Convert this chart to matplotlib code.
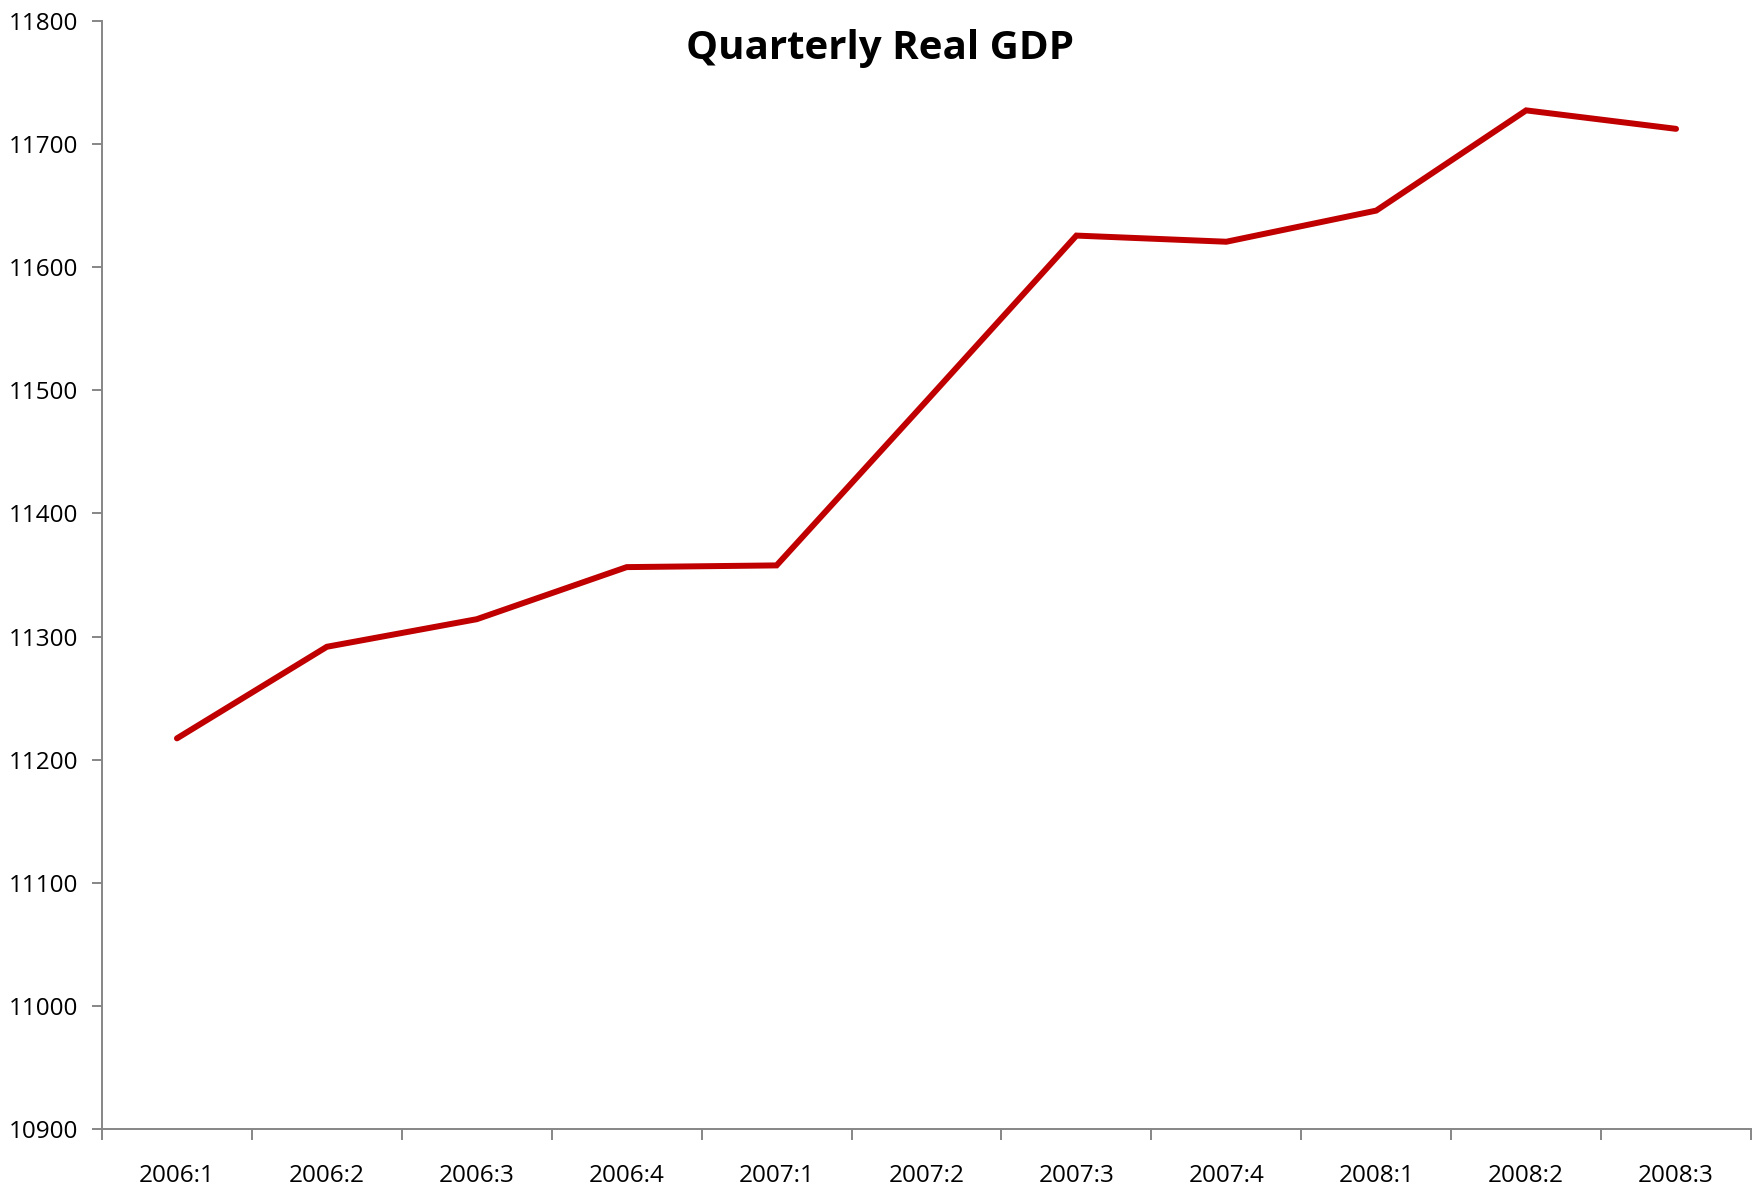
import matplotlib
matplotlib.use("Agg")
import matplotlib.pyplot as plt
import numpy as np

quarters = ["2006:1", "2006:2", "2006:3", "2006:4", "2007:1", "2007:2",
            "2007:3", "2007:4", "2008:1", "2008:2", "2008:3"]
gdp = [11217.3, 11291.7, 11314.1, 11356.4, 11357.8, 11491.4,
       11625.7, 11620.7, 11646.0, 11727.4, 11712.4]

plt.rcParams['font.family'] = ['Open Sans', 'DejaVu Sans']

fig = plt.figure(figsize=(17.64, 11.98), dpi=100)
ax = fig.add_axes([102 / 1764, 1 - 1129 / 1198, (1751 - 102) / 1764, (1129 - 21) / 1198])

x = np.arange(len(quarters))
ax.plot(x, gdp, color='#C00000', lw=4.3, solid_capstyle='round', solid_joinstyle='miter')

ax.set_xlim(-0.5, len(quarters) - 0.5)
ax.set_ylim(10900, 11800)
ax.set_yticks(np.arange(10900, 11801, 100))

# ticks on category boundaries, labels at centres (spreadsheet style)
ax.set_xticks(np.arange(-0.5, len(quarters), 1.0))
ax.set_xticklabels([])
ax.set_xticks(x, minor=True)
ax.set_xticklabels(quarters, minor=True)
ax.tick_params(axis='x', which='minor', length=0, pad=25, labelsize=17.5)
ax.tick_params(axis='x', which='major', length=8, width=1.4, color='#868686')
ax.tick_params(axis='y', length=7, width=1.4, color='#868686', pad=10, labelsize=17.5)

for s in ['top', 'right']:
    ax.spines[s].set_visible(False)
for s in ['left', 'bottom']:
    ax.spines[s].set_color('#868686')
    ax.spines[s].set_linewidth(1.4)

fig.text(880 / 1764, 1 - 48 / 1198, "Quarterly Real GDP", ha='center', va='center',
         fontsize=29, fontweight='bold')

fig.savefig("out.png", dpi=100)
